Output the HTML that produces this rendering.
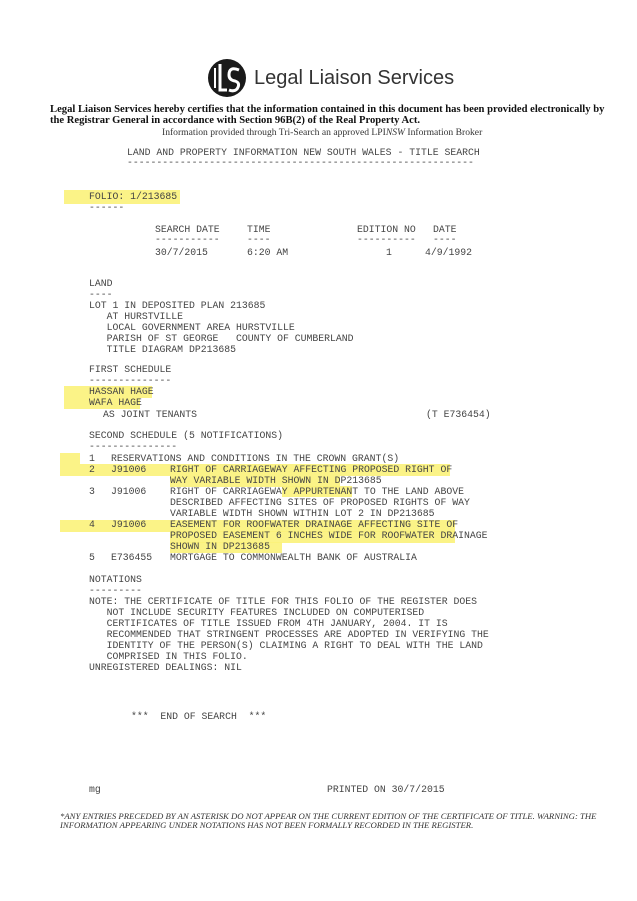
<!DOCTYPE html>
<html><head><meta charset="utf-8"><style>
body{margin:0;width:637px;height:901px;background:#fff;position:relative;overflow:hidden}
.m{position:absolute;font-family:"Liberation Mono",monospace;font-size:9.8px;line-height:11px;color:#444;white-space:pre}
.h{position:absolute;background:#fbf27a;opacity:.9}
.s{position:absolute;font-family:"Liberation Serif",serif;color:#111;white-space:nowrap}
</style></head><body>
<div class="h" style="left:64px;top:190px;width:116px;height:14px"></div>
<div class="h" style="left:64px;top:386px;width:88px;height:12px"></div>
<div class="h" style="left:64px;top:398px;width:76px;height:11px"></div>
<div class="h" style="left:60px;top:453px;width:20px;height:11px"></div>
<div class="h" style="left:60px;top:464px;width:390px;height:12px"></div>
<div class="h" style="left:170px;top:476px;width:170px;height:11px"></div>
<div class="h" style="left:282px;top:486px;width:70px;height:11px"></div>
<div class="h" style="left:60px;top:520px;width:395px;height:12px"></div>
<div class="h" style="left:170px;top:531px;width:285px;height:12px"></div>
<div class="h" style="left:170px;top:542px;width:112px;height:11px"></div>

<svg style="position:absolute;left:207px;top:58px" width="40" height="40" viewBox="0 0 40 40">
<circle cx="20" cy="20" r="19" fill="#1a1a1a"/>
<path d="M13 6 V32 H20" stroke="#fff" stroke-width="3" fill="none"/>
<path d="M8 10 V30" stroke="#fff" stroke-width="2" fill="none"/>
<path d="M32 12 Q22 8 22 17 Q22 22 28 23 Q34 25 30 31 Q27 34 22 32" stroke="#fff" stroke-width="3" fill="none"/>
</svg>
<div class="s" style="left:254px;top:67px;font-family:'Liberation Sans',sans-serif;font-size:20px;color:#333">Legal Liaison Services</div>
<div class="s" style="left:50px;top:104px;font-size:10.6px;font-weight:bold">Legal Liaison Services hereby certifies that the information contained in this document has been provided electronically by</div>
<div class="s" style="left:50px;top:115px;font-size:10.6px;font-weight:bold">the Registrar General in accordance with Section 96B(2) of the Real Property Act.</div>
<div class="s" style="left:162px;top:127px;font-size:9.6px;color:#333">Information provided through Tri-Search an approved LPI<i>NSW</i> Information Broker</div>

<div class="m" style="left:127px;top:147px">LAND AND PROPERTY INFORMATION NEW SOUTH WALES - TITLE SEARCH</div>
<div class="m" style="left:127px;top:157px">-----------------------------------------------------------</div>
<div class="m" style="left:89px;top:191px">FOLIO: 1/213685</div>
<div class="m" style="left:89px;top:202px">------</div>
<div class="m" style="left:155px;top:224px">SEARCH DATE</div><div class="m" style="left:247px;top:224px">TIME</div><div class="m" style="left:357px;top:224px">EDITION NO</div><div class="m" style="left:433px;top:224px">DATE</div>
<div class="m" style="left:155px;top:234px">-----------</div><div class="m" style="left:247px;top:234px">----</div><div class="m" style="left:357px;top:234px">----------</div><div class="m" style="left:433px;top:234px">----</div>
<div class="m" style="left:155px;top:247px">30/7/2015</div><div class="m" style="left:247px;top:247px">6:20 AM</div><div class="m" style="left:386px;top:247px">1</div><div class="m" style="left:425px;top:247px">4/9/1992</div>

<div class="m" style="left:89px;top:278px">LAND
----
LOT 1 IN DEPOSITED PLAN 213685
   AT HURSTVILLE
   LOCAL GOVERNMENT AREA HURSTVILLE
   PARISH OF ST GEORGE   COUNTY OF CUMBERLAND
   TITLE DIAGRAM DP213685</div>
<div class="m" style="left:89px;top:364px">FIRST SCHEDULE
--------------
HASSAN HAGE
WAFA HAGE</div>
<div class="m" style="left:103px;top:409px">AS JOINT TENANTS</div>
<div class="m" style="left:426px;top:409px">(T E736454)</div>
<div class="m" style="left:89px;top:430px">SECOND SCHEDULE (5 NOTIFICATIONS)
---------------</div>
<div class="m" style="left:89px;top:453px">1
2
&nbsp;
3
&nbsp;
&nbsp;
4
&nbsp;
&nbsp;
5</div>
<div class="m" style="left:111px;top:453px">RESERVATIONS AND CONDITIONS IN THE CROWN GRANT(S)
J91006
&nbsp;
J91006
&nbsp;
&nbsp;
J91006
&nbsp;
&nbsp;
E736455</div>
<div class="m" style="left:170px;top:464px">RIGHT OF CARRIAGEWAY AFFECTING PROPOSED RIGHT OF
WAY VARIABLE WIDTH SHOWN IN DP213685
RIGHT OF CARRIAGEWAY APPURTENANT TO THE LAND ABOVE
DESCRIBED AFFECTING SITES OF PROPOSED RIGHTS OF WAY
VARIABLE WIDTH SHOWN WITHIN LOT 2 IN DP213685
EASEMENT FOR ROOFWATER DRAINAGE AFFECTING SITE OF
PROPOSED EASEMENT 6 INCHES WIDE FOR ROOFWATER DRAINAGE
SHOWN IN DP213685
MORTGAGE TO COMMONWEALTH BANK OF AUSTRALIA</div>
<div class="m" style="left:89px;top:574px">NOTATIONS
---------
NOTE: THE CERTIFICATE OF TITLE FOR THIS FOLIO OF THE REGISTER DOES
   NOT INCLUDE SECURITY FEATURES INCLUDED ON COMPUTERISED
   CERTIFICATES OF TITLE ISSUED FROM 4TH JANUARY, 2004. IT IS
   RECOMMENDED THAT STRINGENT PROCESSES ARE ADOPTED IN VERIFYING THE
   IDENTITY OF THE PERSON(S) CLAIMING A RIGHT TO DEAL WITH THE LAND
   COMPRISED IN THIS FOLIO.
UNREGISTERED DEALINGS: NIL</div>
<div class="m" style="left:131px;top:711px">***  END OF SEARCH  ***</div>
<div class="m" style="left:89px;top:784px">mg</div>
<div class="m" style="left:327px;top:784px">PRINTED ON 30/7/2015</div>
<div class="s" style="left:60px;top:812px;font-size:8.7px;font-style:italic;color:#333;line-height:9px">*ANY ENTRIES PRECEDED BY AN ASTERISK DO NOT APPEAR ON THE CURRENT EDITION OF THE CERTIFICATE OF TITLE. WARNING: THE<br>INFORMATION APPEARING UNDER NOTATIONS HAS NOT BEEN FORMALLY RECORDED IN THE REGISTER.</div>
</body></html>
